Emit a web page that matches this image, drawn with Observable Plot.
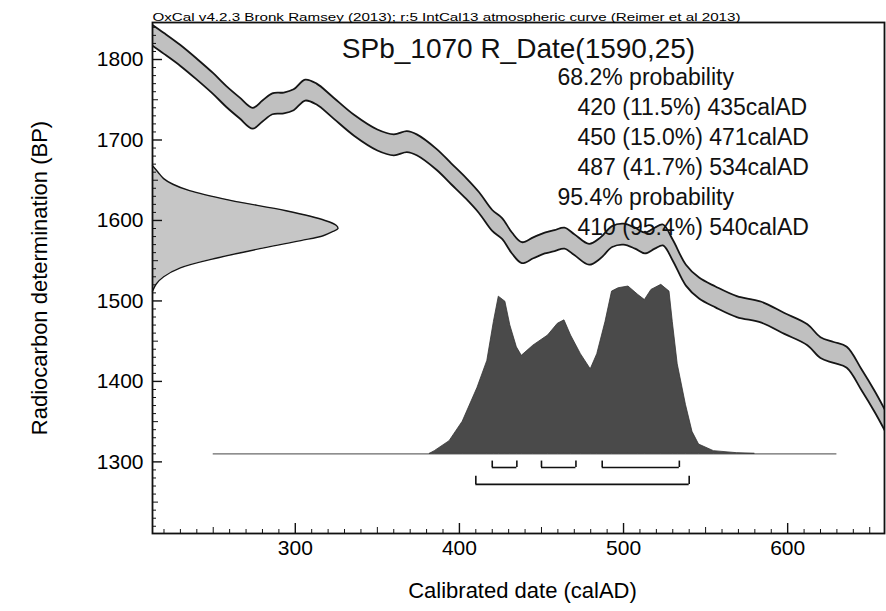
<!DOCTYPE html>
<html>
<head>
<meta charset="utf-8">
<script src="https://cdn.jsdelivr.net/npm/d3@7"></script>
<script src="https://cdn.jsdelivr.net/npm/@observablehq/plot@0.6"></script>
<style>
  html, body { margin: 0; padding: 0; background: #fff; }
  #chart { width: 886px; height: 611px; }
</style>
</head>
<body>
<div id="chart"></div>
<script>
// IntCal13 band: cal AD, mean BP, 1-sigma BP
const curveAD    = [213, 220, 230, 240, 250, 258, 266, 274, 280, 286, 293, 299, 306, 313, 322, 336, 350, 360, 368, 374, 386, 395, 404, 412, 420, 426, 432, 438, 445, 452, 458, 464, 470, 479, 486, 493, 500, 507, 513, 519, 524, 530, 538, 546, 556, 569, 584, 598, 612, 620, 628, 636, 645, 653, 661];
const curveBP    = [1830, 1820, 1805, 1788, 1770, 1754, 1740, 1727, 1736, 1745, 1746, 1750, 1762, 1757, 1742, 1718, 1700, 1694, 1698, 1694, 1676, 1658, 1640, 1622, 1600, 1590, 1572, 1560, 1566, 1572, 1575, 1578, 1570, 1558, 1566, 1580, 1583, 1578, 1572, 1578, 1582, 1563, 1532, 1516, 1505, 1493, 1486, 1472, 1458, 1442, 1436, 1430, 1402, 1375, 1345];
const curveSigma = [13, 13, 13, 13, 13, 13, 13, 13, 13, 13, 13, 13, 13, 13, 13, 13, 13, 13, 13, 13, 13, 13, 13, 13, 13, 13, 13, 13, 13, 13, 13, 13, 13, 13, 13, 13, 13, 13, 13, 13, 13, 13, 13, 13, 13, 13, 13, 13, 13, 13, 13, 13, 13, 13, 13];

// Radiocarbon measurement R_Date(1590,25): BP and relative density
const rdateBP = [1668, 1660, 1652, 1645, 1637, 1625, 1612, 1600, 1594, 1590, 1586, 1581, 1575, 1566, 1554, 1541, 1530, 1521, 1512];
const rdateP  = [0.0, 0.03, 0.06, 0.11, 0.20, 0.42, 0.72, 0.93, 0.99, 1.0, 0.97, 0.92, 0.80, 0.60, 0.36, 0.15, 0.06, 0.02, 0.0];

// Calibrated date distribution: cal AD and relative probability
const calAD = [382, 385, 394, 402, 411, 417, 421, 424, 428, 431, 435, 438, 445, 454, 460, 464, 468, 474, 480, 484, 489, 493, 497, 503, 509, 513, 517, 523, 528, 530, 533, 538, 542, 546, 555, 569, 580];
const calP  = [0, 0.016, 0.075, 0.19, 0.39, 0.55, 0.78, 0.93, 0.90, 0.76, 0.63, 0.58, 0.64, 0.70, 0.77, 0.79, 0.70, 0.59, 0.50, 0.59, 0.78, 0.96, 0.98, 0.99, 0.94, 0.91, 0.97, 1.0, 0.96, 0.78, 0.53, 0.29, 0.13, 0.055, 0.016, 0.004, 0];

// Ranges
const range68From = [420, 450, 487];
const range68To   = [435, 471, 534];
const range68Pct  = ["11.5%", "15.0%", "41.7%"];
const range95From = [410];
const range95To   = [540];
const range95Pct  = ["95.4%"];

// Axis ticks
const xTickLabels = [300, 400, 500, 600];
const yTickLabels = [1300, 1400, 1500, 1600, 1700, 1800];

const headerText = "OxCal v4.2.3 Bronk Ramsey (2013); r:5 IntCal13 atmospheric curve (Reimer et al 2013)";
const titleText  = "SPb_1070 R_Date(1590,25)";
const xLabel = "Calibrated date (calAD)";
const yLabel = "Radiocarbon determination (BP)";

// ---- build tables ----
const band = curveAD.map((x, i) => ({x, lo: curveBP[i] - curveSigma[i], hi: curveBP[i] + curveSigma[i]}));
const rdate = rdateBP.map((bp, i) => ({bp, p: rdateP[i]}));
const cal = calAD.map((x, i) => ({x, p: calP[i]}));
const r68 = range68From.map((f, i) => ({from: f, to: range68To[i], pct: range68Pct[i]}));
const r95 = range95From.map((f, i) => ({from: f, to: range95To[i], pct: range95Pct[i]}));
const textLines = [
  {t: "68.2% probability", indent: false},
  ...r68.map(r => ({t: `${r.from} (${r.pct}) ${r.to}calAD`, indent: true})),
  {t: "95.4% probability", indent: false},
  ...r95.map(r => ({t: `${r.from} (${r.pct}) ${r.to}calAD`, indent: true}))
];

const xDomain = [213, 659];
const yDomain = [1211, 1846];
const W = 886, H = 611;
const mL = 152, mR = 2, mT = 22, mB = 78;
const innerW = W - mL - mR, innerH = H - mT - mB;

const xMinor = d3.range(220, 660, 10).filter(v => v % 50 !== 0);
const xMid = d3.range(250, 660, 100);
const yMinor = d3.range(1220, 1846, 10).filter(v => v % 50 !== 0);
const yMid = d3.range(1250, 1846, 100);

const rBase = xDomain[0], rWidth = 113;   // R_Date density drawn along x from the axis
const calBase = 1310, calHeight = 210;     // calibrated density drawn along y from its baseline

const font = "'Liberation Sans', Arial, Helvetica, sans-serif";

const textMarks = textLines.map((l, i) =>
  Plot.text([l.t], {frameAnchor: "top-left", dx: l.indent ? 425 : 405, dy: 62 + i * 30,
    lineAnchor: "bottom", fontSize: 23, textAnchor: "start", text: d => d, fill: "#111"}));

const plot = Plot.plot({
  width: W, height: H,
  marginLeft: mL, marginRight: mR, marginTop: mT, marginBottom: mB,
  style: {fontFamily: font, background: "white", color: "black"},
  x: {domain: xDomain, axis: null},
  y: {domain: yDomain, axis: null},
  marks: [
    // calibration curve band
    Plot.areaY(band, {x: "x", y1: "lo", y2: "hi", fill: "#c0c0c0", curve: "catmull-rom", clip: true}),
    Plot.lineY(band, {x: "x", y: "hi", stroke: "#151515", strokeWidth: 1.8, curve: "catmull-rom", clip: true}),
    Plot.lineY(band, {x: "x", y: "lo", stroke: "#151515", strokeWidth: 1.8, curve: "catmull-rom", clip: true}),
    // radiocarbon measurement
    Plot.areaX(rdate, {y: "bp", x1: rBase, x2: d => rBase + d.p * rWidth, fill: "#c6c6c6", curve: "catmull-rom"}),
    Plot.lineX(rdate, {y: "bp", x: d => rBase + d.p * rWidth, stroke: "#151515", strokeWidth: 1.4, curve: "catmull-rom"}),
    // calibrated distribution
    Plot.ruleY([calBase], {x1: 250, x2: 630, stroke: "#6a6a6a", strokeWidth: 1.2}),
    Plot.areaY(cal, {x: "x", y1: calBase, y2: d => calBase + d.p * calHeight, fill: "#4a4a4a", stroke: "#333", strokeWidth: 0.8}),
    // ranges
    Plot.ruleY(r68, {y: 1293, x1: "from", x2: "to", stroke: "#111", strokeWidth: 1.6}),
    Plot.ruleX(r68.flatMap(r => [r.from, r.to]), {x: d => d, y1: 1293, y2: 1301, stroke: "#111", strokeWidth: 1.6}),
    Plot.ruleY(r95, {y: 1272, x1: "from", x2: "to", stroke: "#111", strokeWidth: 1.6}),
    Plot.ruleX(r95.flatMap(r => [r.from, r.to]), {x: d => d, y1: 1272, y2: 1282, stroke: "#111", strokeWidth: 1.6}),
    // inward ticks
    Plot.tickX(xMinor, {x: d => d, insetTop: innerH - 4, stroke: "#111"}),
    Plot.tickX(xMid, {x: d => d, insetTop: innerH - 6, stroke: "#111"}),
    Plot.tickX(xTickLabels, {x: d => d, insetTop: innerH - 10, stroke: "#111", strokeWidth: 1.4}),
    Plot.tickY(yMinor, {y: d => d, insetRight: innerW - 4, stroke: "#111"}),
    Plot.tickY(yMid, {y: d => d, insetRight: innerW - 6, stroke: "#111"}),
    Plot.tickY(yTickLabels, {y: d => d, insetRight: innerW - 10, stroke: "#111", strokeWidth: 1.4}),
    Plot.frame({stroke: "#111", strokeWidth: 1.8}),
    // axes labels
    Plot.axisX({ticks: xTickLabels, tickSize: 0, tickPadding: 7, fontSize: 21, tickFormat: d => String(d)}),
    Plot.axisY({ticks: yTickLabels, tickSize: 0, tickPadding: 9, fontSize: 21, tickFormat: d => String(d)}),
    Plot.text([xLabel], {frameAnchor: "bottom", dx: 4, dy: 64, fontSize: 22, textAnchor: "middle", text: d => d}),
    Plot.text([yLabel], {frameAnchor: "left", dx: -113, rotate: -90, fontSize: 22, textAnchor: "middle", text: d => d}),
    // header & title
    Plot.text([headerText], {frameAnchor: "top-left", dx: 0, dy: -9, fontSize: 11, textAnchor: "start", text: d => d}),
    Plot.text([titleText], {frameAnchor: "top", dx: 0, dy: 35, lineAnchor: "bottom", fontSize: 28, textAnchor: "middle", text: d => d, fill: "#111"}),
    ...textMarks
  ]
});

document.getElementById("chart").appendChild(plot);

// stretch header to the width seen in the reference
d3.select(plot).selectAll("text").filter(function() { return this.textContent === headerText; })
  .attr("textLength", 588).attr("lengthAdjust", "spacingAndGlyphs");
</script>
</body>
</html>
